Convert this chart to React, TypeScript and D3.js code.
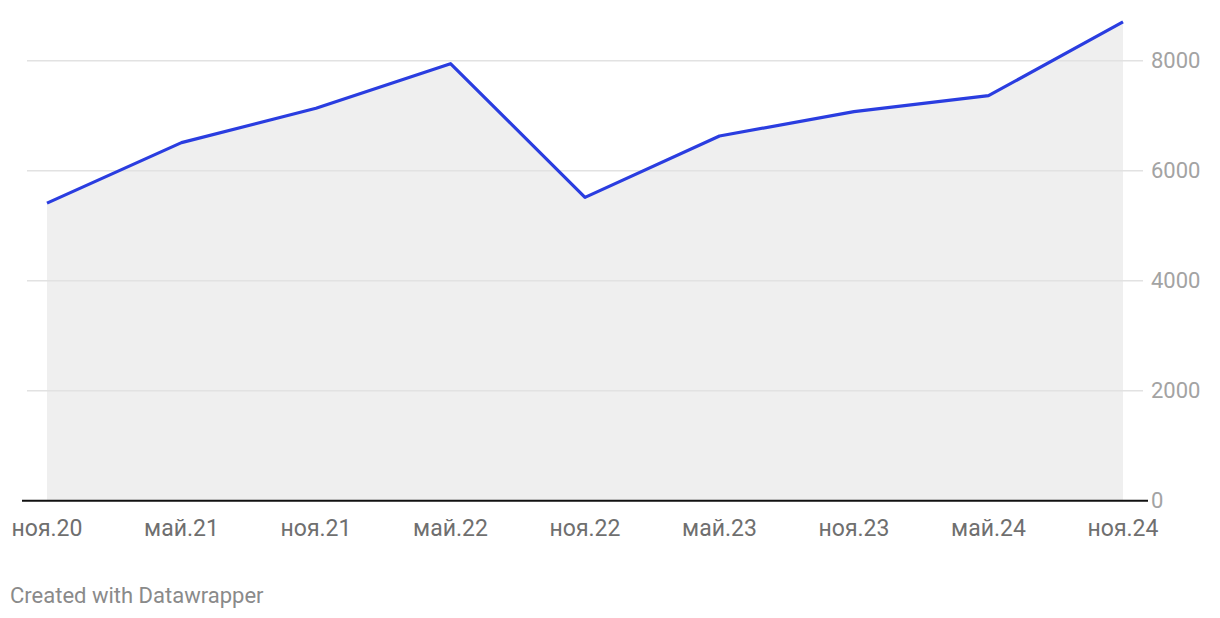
import React from "react";
import * as d3 from "d3";

const categories = ["ноя.20", "май.21", "ноя.21", "май.22", "ноя.22", "май.23", "ноя.23", "май.24", "ноя.24"];
const values = [5410, 6510, 7135, 7945, 5515, 6630, 7075, 7365, 8705];
const yTicks = [0, 2000, 4000, 6000, 8000];

export default function App() {
  const W = 1220, H = 618;
  const x = d3.scalePoint<string>().domain(categories).range([47, 1123]);
  const y = d3.scaleLinear().domain([0, 8000]).range([500.7, 60.7]);
  const pts = categories.map((c, i) => ({ c, v: values[i] }));
  const area = d3.area<any>().x((d) => x(d.c)!).y0(y(0)).y1((d) => y(d.v));
  const line = d3.line<any>().x((d) => x(d.c)!).y((d) => y(d.v));
  const font = "Roboto, 'Noto Sans', sans-serif";
  return (
    <svg width={W} height={H} style={{ position: "absolute", left: 0, top: 0 }}>
      <rect width={W} height={H} fill="#fff" />
      <path d={area(pts)!} fill="#efefef" />
      {yTicks.filter((t) => t > 0).map((t) => (
        <line key={t} x1={27} x2={1143} y1={y(t)} y2={y(t)} stroke="#e2e2e2" strokeWidth={1.5} />
      ))}
      <line x1={22} x2={1148} y1={y(0)} y2={y(0)} stroke="#111" strokeWidth={2} />
      {yTicks.map((t) => (
        <text key={t} x={1151} y={y(t)} dy="0.35em" fill="#a3a3a3" fontSize={22} fontFamily={font}>
          {t}
        </text>
      ))}
      <path d={line(pts)!} fill="none" stroke="#2a3de0" strokeWidth={3.2} strokeLinejoin="round" />
      {categories.map((c) => (
        <text key={c} x={x(c)} y={536} textAnchor="middle" fill="#6f6f6f" fontSize={23} fontFamily={font}>
          {c}
        </text>
      ))}
      <text x={10} y={603} fill="#8a8a8a" fontSize={22} fontFamily={font}>
        Created with Datawrapper
      </text>
    </svg>
  );
}
